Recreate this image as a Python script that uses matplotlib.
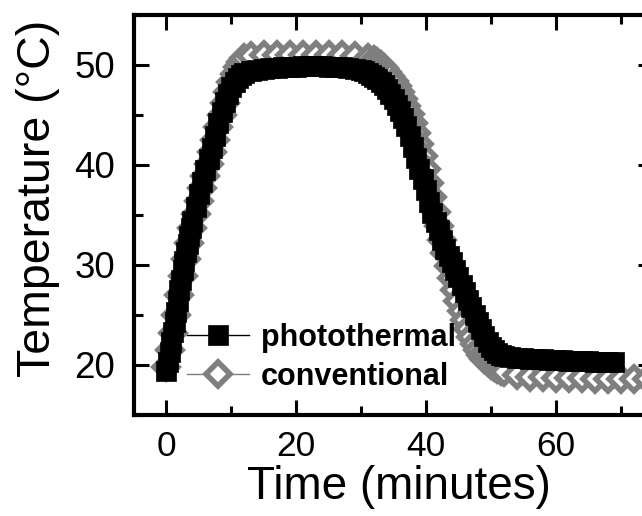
import matplotlib
matplotlib.use("Agg")
import matplotlib.pyplot as plt
from matplotlib.ticker import MultipleLocator

plt.rcParams['font.family'] = ['Liberation Sans', 'DejaVu Sans']

# photothermal heating (black squares)
photo_time = [0, 0.25, 0.5, 0.75, 1, 1.25, 1.5, 1.75, 2, 2.25, 2.5, 2.75, 3, 3.25, 3.5, 3.75, 4,
              4.5, 5, 5.5, 6, 6.5, 7, 7.5, 8, 8.5, 9, 9.5, 10, 10.5, 11, 11.5, 12,
              13, 14, 15, 16, 17, 18, 19, 20, 21, 22, 23, 24, 25, 26, 27, 28, 29,
              30, 30.5, 31, 31.5, 32, 32.5, 33, 33.5, 34, 34.5, 35, 35.5, 36, 36.5, 37, 37.5, 38, 38.5, 39, 39.5,
              40, 40.5, 41, 41.5, 42, 42.5, 43, 43.5, 44, 44.5, 45, 45.5, 46, 46.5, 47, 47.5, 48, 48.5, 49, 49.5,
              50, 50.5, 51, 51.5, 52,
              53, 54, 55, 56, 57, 58, 59, 60, 61, 62, 63, 64, 65, 66, 67, 68, 69]
photo_temp = [19.4, 20.3, 21.3, 22.3, 23.3, 24.3, 25.3, 26.4, 27.5, 28.5, 29.5, 30.4, 31.3, 32.1, 32.9, 33.7, 34.4,
              35.8, 37.1, 38.3, 39.5, 40.6, 41.7, 42.9, 44.2, 45.3, 46.3, 47.1, 47.8, 48.3, 48.7, 49.0, 49.2,
              49.4, 49.5, 49.6, 49.7, 49.7, 49.8, 49.8, 49.8, 49.9, 49.9, 49.9, 49.9, 49.8, 49.8, 49.8, 49.7, 49.6,
              49.5, 49.4, 49.2, 49.0, 48.8, 48.6, 48.3, 48.0, 47.6, 47.1, 46.6, 46.0, 45.4, 44.7, 43.9, 42.9, 41.8,
              40.7, 39.6, 38.6, 37.5, 36.3, 35.2, 34.3, 33.5, 32.5, 31.6, 30.9, 30.3, 29.5, 28.8, 28.0, 27.3, 26.5,
              25.8, 25.0, 24.3, 23.6, 22.9, 22.3, 21.8, 21.5, 21.2, 21.0, 20.9,
              20.8, 20.7, 20.7, 20.6, 20.6, 20.6, 20.5, 20.5, 20.5, 20.4, 20.4, 20.4, 20.4, 20.3, 20.3, 20.3, 20.3]

# conventional heating (grey open diamonds)
conv_time = [0, 0.5, 1, 1.5, 2, 2.5, 3, 3.5, 4, 4.5, 5, 5.5, 6, 6.5, 7, 7.5, 8, 8.5, 9, 9.5, 10, 10.5, 11, 11.5, 12,
             13, 15, 17, 19, 21, 23, 25, 27, 29, 31,
             32, 32.5, 33, 33.5, 34, 34.5, 35, 35.5, 36, 36.5, 37, 37.5, 38, 38.5, 39, 39.5, 40, 40.5, 41, 41.5,
             42, 42.5, 43, 43.5, 44, 44.5, 45, 45.5, 46, 46.5, 47, 47.5, 48, 48.5, 49, 49.5, 50, 50.5, 51, 51.5, 52,
             54, 56, 58, 60, 62, 64, 66, 68, 70, 72, 74]
conv_temp = [19.8, 21.5, 23.2, 25.0, 27.0, 28.9, 30.6, 32.2, 33.7, 35.1, 36.4, 37.7, 38.9, 40.1, 41.3, 42.5, 43.8,
             45.0, 46.2, 47.3, 48.3, 49.1, 49.8, 50.3, 50.7,
             50.9, 51.0, 51.0, 51.0, 51.0, 51.0, 51.0, 51.0, 50.9, 50.7,
             50.5, 50.3, 50.0, 49.7, 49.3, 48.9, 48.4, 47.9, 47.3, 46.6, 45.9, 45.1, 44.2, 43.2, 42.1, 40.9, 39.6,
             38.2, 36.8, 35.3, 33.9, 32.5, 31.2, 29.9, 28.7, 27.5, 26.4, 25.4, 24.5, 23.6, 22.8, 22.1, 21.5, 21.0,
             20.6, 20.3, 20.0, 19.8, 19.6, 19.4, 19.3,
             19.0, 18.8, 18.8, 18.7, 18.7, 18.7, 18.6, 18.6, 18.6, 18.6, 18.6]

grey = '#7f7f7f'

fig = plt.figure(figsize=(6.42, 5.16), dpi=100)
ax = fig.add_axes([134 / 642, 101 / 516, 519 / 642, 400 / 516])

ax.plot(conv_time, conv_temp, color=grey, lw=1, marker='D', ms=12, mfc='white', mec=grey, mew=4,
        label='conventional', zorder=2)
ax.plot(photo_time, photo_temp, color='black', lw=1, marker='s', ms=14.5, mfc='black', mec='black', mew=0.5,
        label='photothermal', zorder=3)

ax.set_xlim(-5, 75)
ax.set_ylim(15, 55)
ax.xaxis.set_major_locator(MultipleLocator(20))
ax.xaxis.set_minor_locator(MultipleLocator(10))
ax.yaxis.set_major_locator(MultipleLocator(10))
ax.yaxis.set_minor_locator(MultipleLocator(5))
ax.tick_params(which='both', direction='in', top=True, right=True, width=2.2)
ax.tick_params(which='major', length=11)
ax.tick_params(which='minor', length=6.5)
ax.tick_params(axis='x', which='major', labelsize=25.5, pad=11)
ax.tick_params(axis='y', which='major', labelsize=26.5, pad=13.5)
for s in ax.spines.values():
    s.set_linewidth(3)

ax.set_xlabel('Time (minutes)', fontsize=33)
ax.set_ylabel('Temperature (°C)', fontsize=33.5)
ax.xaxis.set_label_coords(0.5096, -0.125)
ax.yaxis.set_label_coords(-0.1426, 0.541)

handles, labels = ax.get_legend_handles_labels()
ax.legend(handles[::-1], labels[::-1], loc='lower left', bbox_to_anchor=(0.103, 0.0575), frameon=False,
          prop={'weight': 'bold', 'size': 22}, handlelength=2.0, handletextpad=0.4, labelspacing=0.3,
          borderpad=0, borderaxespad=0)

fig.savefig('out.png', dpi=100)
